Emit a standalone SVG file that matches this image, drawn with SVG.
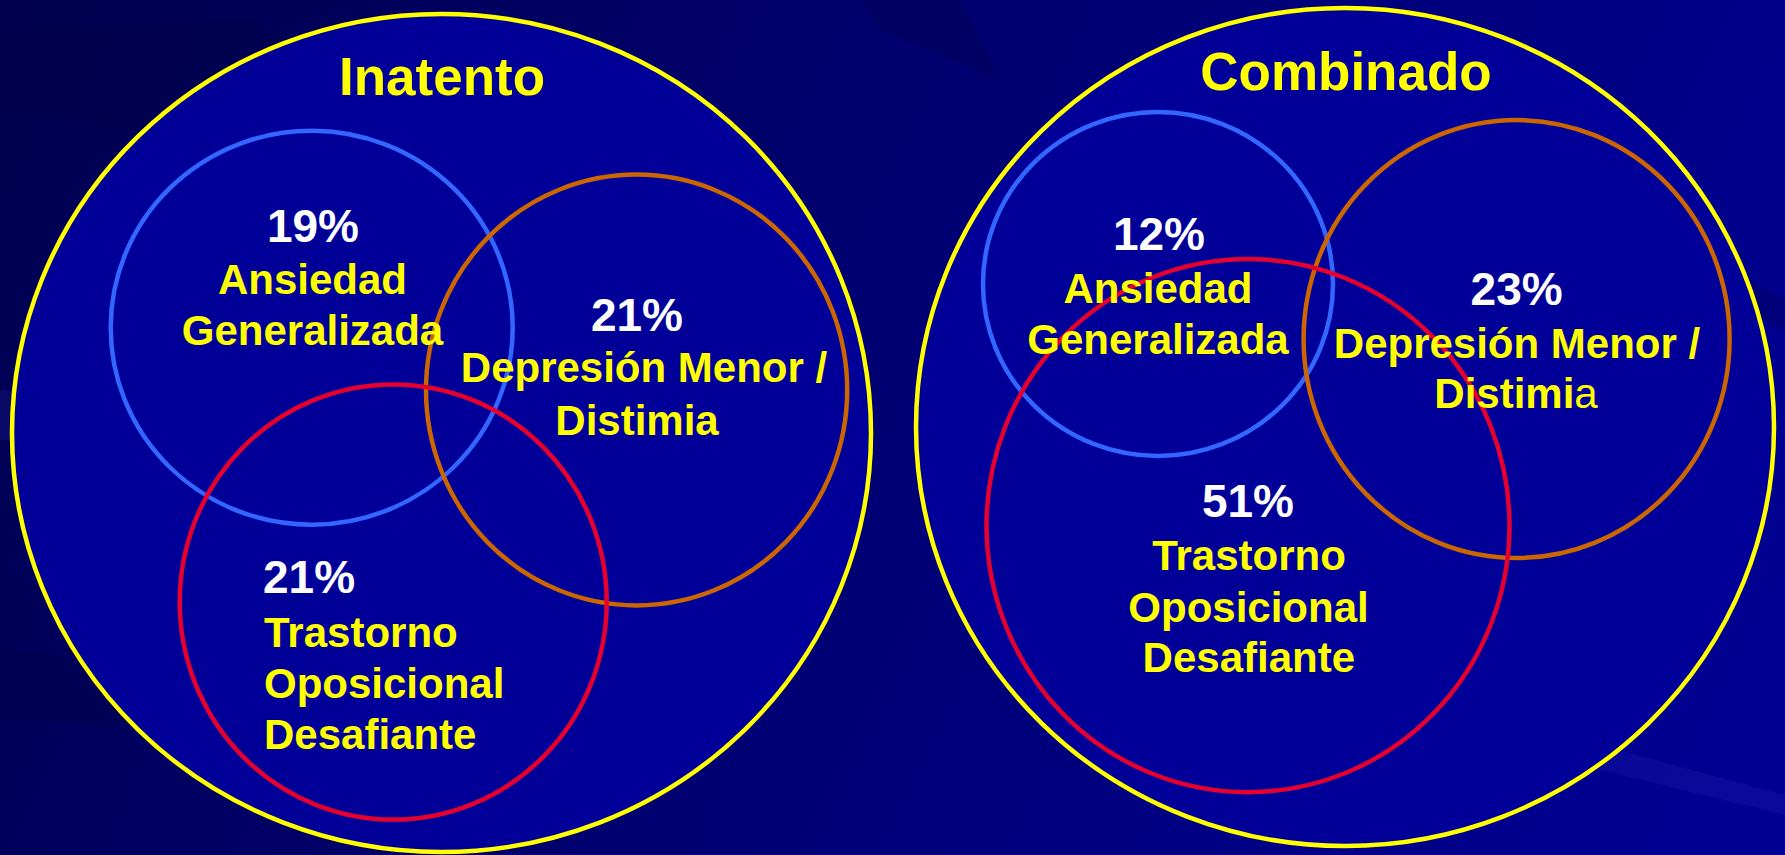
<svg xmlns="http://www.w3.org/2000/svg" width="1785" height="855" viewBox="0 0 1785 855">
  <defs>
    <linearGradient id="bg" x1="0" y1="0" x2="1785" y2="855" gradientUnits="userSpaceOnUse">
      <stop offset="0" stop-color="#00004e"/>
      <stop offset="0.45" stop-color="#000070"/>
      <stop offset="1" stop-color="#000096"/>
    </linearGradient>
    <style>
      .outer { fill: #000099; stroke: #ffff00; stroke-width: 4.5; }
      .blue { fill: none; stroke: #3366ff; stroke-width: 4.5; }
      .orange { fill: none; stroke: #cc6600; stroke-width: 4.5; }
      .red { fill: none; stroke: #e6002e; stroke-width: 4.5; }
      text { font-family: "Liberation Sans", Arial, Helvetica, sans-serif; font-weight: bold; }
      .title { font-size: 53px; fill: #ffff00; }
      .pct { font-size: 46px; fill: #ffffff; }
      .lbl { font-size: 42px; fill: #ffff00; }
      .mid { text-anchor: middle; }
      .streak-d { fill: #000040; opacity: 0.25; }
      .streak-l { fill: #3030c0; opacity: 0.18; }
    </style>
  </defs>

  <!-- background -->
  <rect x="0" y="0" width="1785" height="855" fill="url(#bg)"/>
  <g id="background-streaks">
    <polygon class="streak-d" points="0,30 250,20 600,200 0,110"/>
    <polygon class="streak-l" points="0,390 500,420 700,470 0,440"/>
    <polygon class="streak-d" points="0,650 700,700 700,760 0,720"/>
    <polygon class="streak-d" points="860,0 960,0 1000,80 880,30"/>
    <polygon class="streak-d" points="1690,250 1785,300 1785,330 1690,290"/>
    <polygon class="streak-l" points="1600,745 1785,795 1785,815 1600,770"/>
  </g>

  <!-- Inatento group -->
  <g id="inatento">
    <ellipse class="outer" cx="441.5" cy="433" rx="429.5" ry="419"/>
    <ellipse class="blue" cx="311.7" cy="327.7" rx="201" ry="197"/>
    <ellipse class="orange" cx="636.6" cy="390" rx="210.6" ry="215.4"/>
    <ellipse class="red" cx="393.2" cy="602" rx="213.5" ry="217.6"/>
    <text class="title mid" x="442" y="95">Inatento</text>
  </g>
  <g id="inatento-ansiedad">
    <text class="pct mid" x="313" y="241.5">19%</text>
    <text class="lbl mid" x="312.5" y="294.4">Ansiedad</text>
    <text class="lbl mid" x="312.5" y="345">Generalizada</text>
  </g>
  <g id="inatento-depresion">
    <text class="pct mid" x="637" y="331">21%</text>
    <text class="lbl mid" x="644" y="381.7">Depresión Menor /</text>
    <text class="lbl mid" x="637" y="434.6">Distimia</text>
  </g>
  <g id="inatento-trastorno">
    <text class="pct" x="263" y="593">21%</text>
    <text class="lbl" x="264" y="647">Trastorno</text>
    <text class="lbl" x="264" y="698">Oposicional</text>
    <text class="lbl" x="264" y="748.6">Desafiante</text>
  </g>

  <!-- Combinado group -->
  <g id="combinado">
    <ellipse class="outer" cx="1345" cy="427" rx="429" ry="419"/>
    <ellipse class="blue" cx="1158" cy="284" rx="175" ry="172"/>
    <ellipse class="orange" cx="1516.6" cy="339" rx="213" ry="219"/>
    <ellipse class="red" cx="1248" cy="525.6" rx="261.5" ry="266.6"/>
    <text class="title mid" x="1346" y="90">Combinado</text>
  </g>
  <g id="combinado-ansiedad">
    <text class="pct mid" x="1159" y="249.7">12%</text>
    <text class="lbl mid" x="1158" y="302.6">Ansiedad</text>
    <text class="lbl mid" x="1158" y="354.4">Generalizada</text>
  </g>
  <g id="combinado-depresion">
    <text class="pct mid" x="1516.6" y="305">23%</text>
    <text class="lbl mid" x="1517" y="357.5">Depresión Menor /</text>
    <text class="lbl mid" x="1516" y="408.3">Distimi<tspan font-weight="normal">a</tspan></text>
  </g>
  <g id="combinado-trastorno">
    <text class="pct mid" x="1248" y="517">51%</text>
    <text class="lbl mid" x="1249" y="569.8">Trastorno</text>
    <text class="lbl mid" x="1248.5" y="621.6">Oposicional</text>
    <text class="lbl mid" x="1248.8" y="671.7">Desafiante</text>
  </g>
</svg>
